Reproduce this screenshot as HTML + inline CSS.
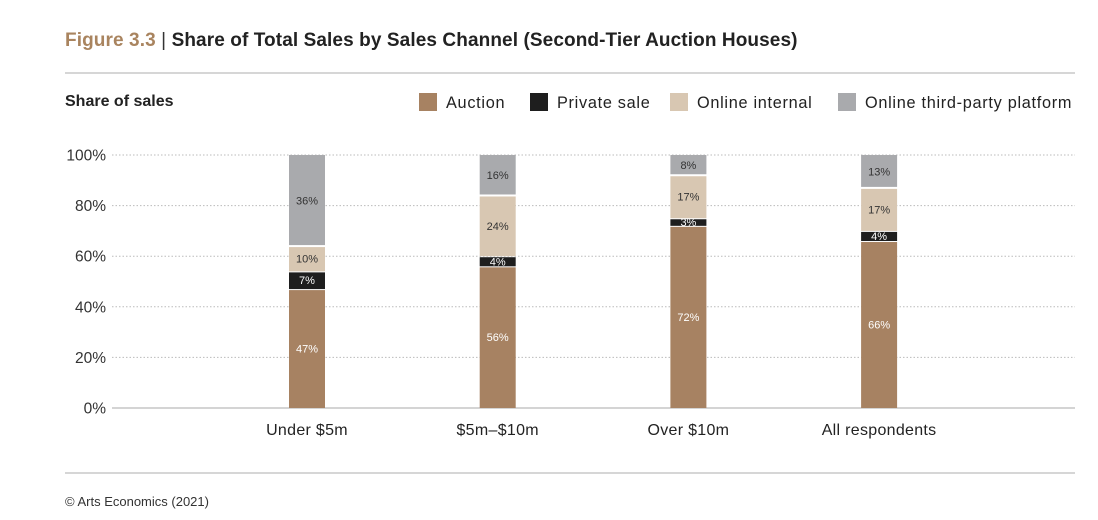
<!DOCTYPE html>
<html><head><meta charset="utf-8"><style>
body{margin:0;background:#fff;font-family:"Liberation Sans",sans-serif;}
#wrap{position:relative;width:1098px;height:520px;overflow:hidden;}
.t{position:absolute;white-space:nowrap;}
</style></head><body>
<div id="wrap">
<div class="t" style="left:65px;top:30px;font-size:19px;font-weight:bold;color:#222;letter-spacing:0.1px"><span style="color:#a9845f">Figure 3.3</span> <span style="font-weight:normal;color:#333">|</span> Share of Total Sales by Sales Channel (Second-Tier Auction Houses)</div>
<div style="position:absolute;left:65px;top:72px;width:1010px;height:2px;background:#d6d6d6"></div>
<div class="t" style="left:65px;top:93px;font-size:16px;font-weight:bold;color:#222">Share of sales</div>
<div style="position:absolute;left:65px;top:472px;width:1010px;height:2px;background:#d6d6d6"></div>
<div class="t" style="left:65px;top:494px;font-size:13px;color:#333">© Arts Economics (2021)</div>
<svg id="chart" width="1098" height="520" style="position:absolute;left:0;top:0"></svg>
</div>
<script>
const categories=["Under $5m","$5m–$10m","Over $10m","All respondents"];
const seriesNames=["Auction","Private sale","Online internal","Online third-party platform"];
const auction=[47,56,72,66];
const privateSale=[7,4,3,4];
const onlineInternal=[10,24,17,17];
const thirdParty=[36,16,8,13];
const yTicks=[0,20,40,60,80,100];
const colors=["#a78262","#1e1e1e","#d8c7b2","#a9aaad"];
const textColors=["#fff","#fff","#333","#333"];
const series=[auction,privateSale,onlineInternal,thirdParty];
const NS="http://www.w3.org/2000/svg";
const svg=document.getElementById('chart');
const y=v=>408-v*2.53;
const x=i=>307+i*190.7;
function mk(tag,attrs){const e=document.createElementNS(NS,tag);for(const k in attrs)e.setAttribute(k,attrs[k]);svg.appendChild(e);return e;}
yTicks.forEach(t=>{
  const l=mk('line',{x1:112,x2:1075,y1:y(t),y2:y(t),stroke:t===0?'#aaa':'#bbb','stroke-width':1,'stroke-dasharray':t===0?'':'1.5,2'});
  
  
  const tx=mk('text',{x:106,y:y(t)+5.5,'text-anchor':'end','font-size':15.5,fill:'#333','font-family':'Liberation Sans'});
  tx.textContent=t+'%';
  
  
});
categories.forEach((c,i)=>{
  let cum=0;
  series.forEach((s,k)=>{
    const v=s[i];const y0=y(cum),y1=y(cum+v);cum+=v;
    const r=mk('rect',{x:x(i)-18,y:y1+(k<3?1:0),width:36,height:Math.max(0,y0-y1-1),fill:colors[k]});
    
    
    const tx=mk('text',{x:x(i),y:(y0+y1)/2+4,'text-anchor':'middle','font-size':11,fill:textColors[k],'font-family':'Liberation Sans'});
    tx.textContent=v+'%';
    
    
  });
  const cl=mk('text',{x:x(i),y:435,'text-anchor':'middle','font-size':16,'letter-spacing':0.3,fill:'#222','font-family':'Liberation Sans'});
  cl.textContent=c;
  
  
});
const legX=[419,530,670,838];
seriesNames.forEach((n,k)=>{
  const r=mk('rect',{x:legX[k],y:93,width:18,height:18,fill:colors[k]});
  
  
  const t=mk('text',{x:legX[k]+27,y:108,'font-size':16.3,'letter-spacing':0.7,fill:'#222','font-family':'Liberation Sans'});
  t.textContent=n;
  
  
});
</script>
</body></html>
